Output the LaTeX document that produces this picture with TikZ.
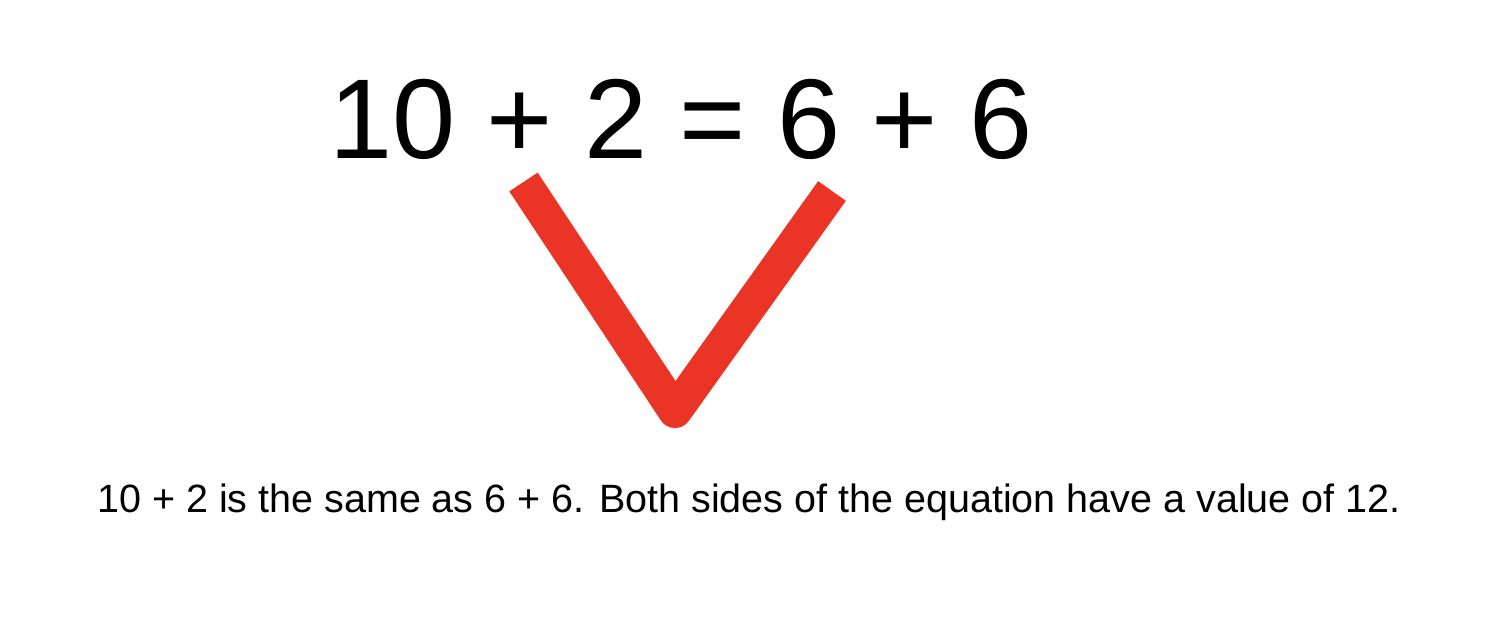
\documentclass[tikz,border=0pt]{standalone}
\usepackage{fontspec}
\setmainfont{Liberation Sans}
\definecolor{checkred}{RGB}{234,53,38}
\tikzset{every picture/.style={line width=0.75pt}}

\begin{document}
\begin{tikzpicture}[x=1pt,y=1pt,yscale=-1,xscale=1]
	\useasboundingbox (0,0) rectangle (1502,638);
	
	% Equation
	\node (eq) at (681,158) [anchor=base][inner sep=0pt] [font=\fontsize{113.5}{130}\selectfont] {10 + 2 = 6 + 6};
	
	% Check mark
	\coordinate (vl) at (523.5,182);
	\coordinate (vb) at (675,411);
	\coordinate (vr) at (832,191);
	\draw [checkred, line width=34pt, line join=round]  (vl) -- (vb) -- (vr) ;
	
	% Text Node
	\node (note) at (749,512) [anchor=base][inner sep=0pt] [font=\fontsize{39.5}{46}\selectfont] {10 + 2 is the same as 6 + 6. Both sides of the equation have a value of 12.};
	
\end{tikzpicture}
\end{document}
